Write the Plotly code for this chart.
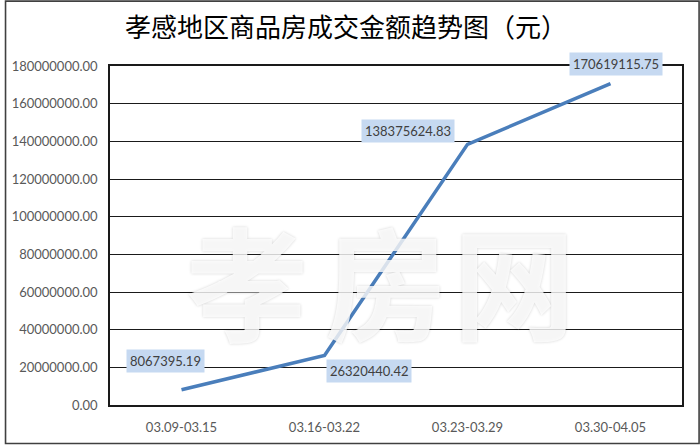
import plotly.graph_objects as go

# Weekly transaction amounts (yuan)
weeks = ["03.09-03.15", "03.16-03.22", "03.23-03.29", "03.30-04.05"]
amounts = [8067395.19, 26320440.42, 138375624.83, 170619115.75]
label_texts = ["8067395.19", "26320440.42", "138375624.83", "170619115.75"]
# pixel offsets of each value label from its point
label_dx = [-16, 44, -60, 5]
label_dy = [29, -16, 13, 20]

y_ticks = list(range(0, 180000001, 20000000))
y_tick_text = [f"{v}.00" for v in y_ticks]

W, H = 700, 447
L, R, T, B = 106, 18, 66, 40.5
PW, PH = W - L - R, H - T - B


def px(x):
    return (x - L) / PW


def py(y):
    return 1 - (y - T) / PH


fig = go.Figure()
fig.add_trace(go.Scatter(
    x=list(range(len(weeks))), y=amounts, mode="lines",
    line=dict(color="#4A7EBB", width=3.5),
    hoverinfo="skip", showlegend=False,
))

annotations = []
for i, (v, t) in enumerate(zip(amounts, label_texts)):
    annotations.append(dict(
        x=i, y=v, xref="x", yref="y", text=t, showarrow=False,
        xshift=label_dx[i], yshift=label_dy[i],
        bgcolor="#C6D9F1", borderpad=3,
        font=dict(family="Lato", size=13, color="#404040"),
    ))

# watermark characters
for ch, cx in zip(["孝", "房", "网"], [244, 384, 513]):
    annotations.append(dict(
        x=px(cx), y=py(278), xref="paper", yref="paper", text=ch,
        xanchor="center", yanchor="middle", showarrow=False,
        font=dict(family="Noto Sans CJK SC", size=122, weight="bold",
                  color="rgba(255,255,255,0.8)",
                  shadow="0px 0px 3px rgba(0,0,0,0.22)"),
    ))

fig.update_layout(
    width=W, height=H,
    margin=dict(l=L, r=R, t=T, b=B),
    paper_bgcolor="white", plot_bgcolor="white",
    title=dict(text="孝感地区商品房成交金额趋势图（元）",
               x=346 / W, xanchor="center", y=1 - 28 / H, yanchor="middle",
               font=dict(family="Noto Sans CJK SC", size=26, color="#000000")),
    xaxis=dict(
        range=[-0.5, 3.5], tickmode="array",
        tickvals=list(range(len(weeks))), ticktext=weeks,
        showgrid=False, zeroline=False, showline=True, mirror=True,
        linecolor="#1a1a1a", linewidth=1.5, ticks="",
        ticklabelstandoff=10,
        tickfont=dict(family="Lato", size=13, color="#595959"),
        fixedrange=True,
    ),
    yaxis=dict(
        range=[0, 180000000], tickmode="array",
        tickvals=y_ticks, ticktext=y_tick_text,
        showgrid=True, gridcolor="#1a1a1a", gridwidth=1,
        zeroline=False, showline=True, mirror=True,
        linecolor="#1a1a1a", linewidth=1.5, ticks="",
        ticklabelstandoff=8,
        tickfont=dict(family="Lato", size=13, color="#595959"),
        fixedrange=True,
    ),
    annotations=annotations,
    shapes=[dict(
        type="rect", xref="paper", yref="paper",
        x0=px(0.8), x1=px(699.2), y0=py(0.8), y1=py(445.2),
        line=dict(color="#404040", width=1.6), layer="above",
    )],
)

fig.write_html("out.html")
